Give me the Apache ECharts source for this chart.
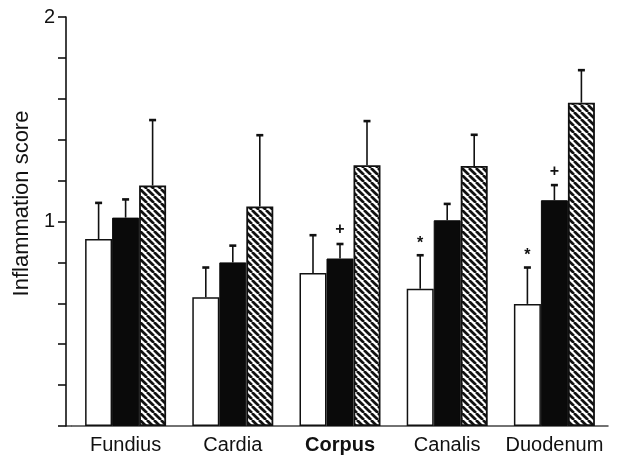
<!DOCTYPE html>
<html>
<head>
<meta charset="utf-8">
<script src="https://cdn.jsdelivr.net/npm/echarts@6/dist/echarts.min.js"></script>
<style>
  html, body { margin: 0; padding: 0; background: #fff; }
  #chart { width: 621px; height: 455px; }
</style>
</head>
<body>
<div id="chart"></div>
<script>
// Gastric regions along the x axis
const categories = ['Fundius', 'Cardia', 'Corpus', 'Canalis', 'Duodenum'];

// Group 1 (open bars): mean and upper error
const openMean = [0.914, 0.629, 0.748, 0.671, 0.597];
const openErr  = [0.177, 0.146, 0.185, 0.164, 0.178];

// Group 2 (solid bars)
const solidMean = [1.019, 0.800, 0.819, 1.006, 1.104];
const solidErr  = [0.089, 0.082, 0.071, 0.080, 0.074];

// Group 3 (hatched bars)
const hatchMean = [1.176, 1.073, 1.275, 1.272, 1.581];
const hatchErr  = [0.320, 0.349, 0.216, 0.152, 0.159];

// Significance marks drawn above the error caps
const openMarks  = ['', '', '', '*', '*'];
const solidMarks = ['', '', '+', '', '+'];
const hatchMarks = ['', '', '', '', ''];

// Y axis tick labels (only whole numbers are labelled)
const yLabels = ['1', '2'];

const FONT = '"Liberation Sans", Arial, Helvetica, sans-serif';
const BAR_W = 27;
const GRID_LEFT = 72;
const Y_OFFSET = 6;

// Diagonal stripe fill for the third group
function stripePattern() {
  const p = 7;
  const c = document.createElement('canvas');
  c.width = p; c.height = p;
  const g = c.getContext('2d');
  g.fillStyle = '#fff';
  g.fillRect(0, 0, p, p);
  g.strokeStyle = '#111';
  g.lineWidth = 2.7;
  for (let k = -1; k <= 1; k++) {
    g.beginPath();
    g.moveTo(k * p, 0);
    g.lineTo(k * p + p, p);
    g.stroke();
  }
  return c;
}

function barSeries(name, values, itemStyle) {
  return {
    name, type: 'bar', data: values, barWidth: BAR_W, barGap: '0%',
    itemStyle, z: 2, silent: true
  };
}

function errorSeries(means, errs, marks, slot) {
  return {
    type: 'custom',
    silent: true,
    z: 3,
    data: means.map((m, i) => [i, m, m + errs[i]]),
    renderItem: (params, api) => {
      const c = api.value(0);
      const base = api.coord([c, api.value(1)]);
      const top = api.coord([c, api.value(2)]);
      const x = base[0] + slot * BAR_W;
      const children = [
        { type: 'line', shape: { x1: x, y1: base[1], x2: x, y2: top[1] },
          style: { stroke: '#111', lineWidth: 1.6 } },
        { type: 'line', shape: { x1: x - 3.5, y1: top[1], x2: x + 3.5, y2: top[1] },
          style: { stroke: '#111', lineWidth: 2.6 } }
      ];
      const mark = marks[params.dataIndex];
      if (mark) {
        children.push({
          type: 'text',
          style: { text: mark, x: x, y: top[1] - (mark === '*' ? 12 : 14),
                   align: 'center', verticalAlign: 'middle',
                   font: 'bold 16px ' + FONT, fill: '#111' }
        });
      }
      return { type: 'group', children };
    }
  };
}

const chart = echarts.init(document.getElementById('chart'), null, { renderer: 'canvas' });

chart.setOption({
  backgroundColor: '#fff',
  animation: false,
  grid: { left: GRID_LEFT, right: 13, top: 17, bottom: 29, containLabel: false },
  xAxis: {
    type: 'category',
    data: categories,
    axisLine: { lineStyle: { color: '#444', width: 1.5 } },
    axisTick: { show: false },
    axisLabel: {
      interval: 0, hideOverlap: false,
      margin: 9, fontSize: 20, color: '#111', fontFamily: FONT,
      formatter: v => v === 'Corpus' ? '{b|' + v + '}' : v,
      rich: { b: { fontWeight: 'bold', fontSize: 20, color: '#111', fontFamily: FONT } }
    },
    splitLine: { show: false }
  },
  yAxis: {
    type: 'value',
    min: 0, max: 2, interval: 0.2,
    offset: Y_OFFSET,
    name: 'Inflammation score',
    nameLocation: 'middle',
    nameGap: 30,
    nameTextStyle: { fontSize: 22, color: '#111', fontFamily: FONT, padding: [0, 0, 0, 36] },
    axisLine: { show: true, lineStyle: { color: '#111', width: 1.6 } },
    axisTick: { show: true, inside: false, length: 8, lineStyle: { color: '#111', width: 1.6 } },
    axisLabel: {
      margin: 11, fontSize: 20, color: '#111', fontFamily: FONT,
      formatter: v => {
        const s = String(Math.round(v * 1000) / 1000);
        return yLabels.includes(s) ? s : '';
      }
    },
    splitLine: { show: false }
  },
  series: [
    barSeries('open', openMean, { color: '#fff', borderColor: '#111', borderWidth: 1.5 }),
    barSeries('solid', solidMean, { color: '#0a0a0a', borderColor: '#0a0a0a', borderWidth: 1 }),
    barSeries('hatched', hatchMean, {
      color: { image: stripePattern(), repeat: 'repeat' },
      borderColor: '#111', borderWidth: 1.8
    }),
    errorSeries(openMean, openErr, openMarks, -1),
    errorSeries(solidMean, solidErr, solidMarks, 0),
    errorSeries(hatchMean, hatchErr, hatchMarks, 1)
  ]
});

// Short stretch of the baseline between the offset y axis and the plot area
const y0 = chart.convertToPixel({ yAxisIndex: 0 }, 0);
chart.setOption({
  graphic: [{
    type: 'line',
    shape: { x1: GRID_LEFT - Y_OFFSET, y1: y0, x2: GRID_LEFT, y2: y0 },
    style: { stroke: '#444', lineWidth: 1.5 },
    silent: true
  }]
});
</script>
</body>
</html>
